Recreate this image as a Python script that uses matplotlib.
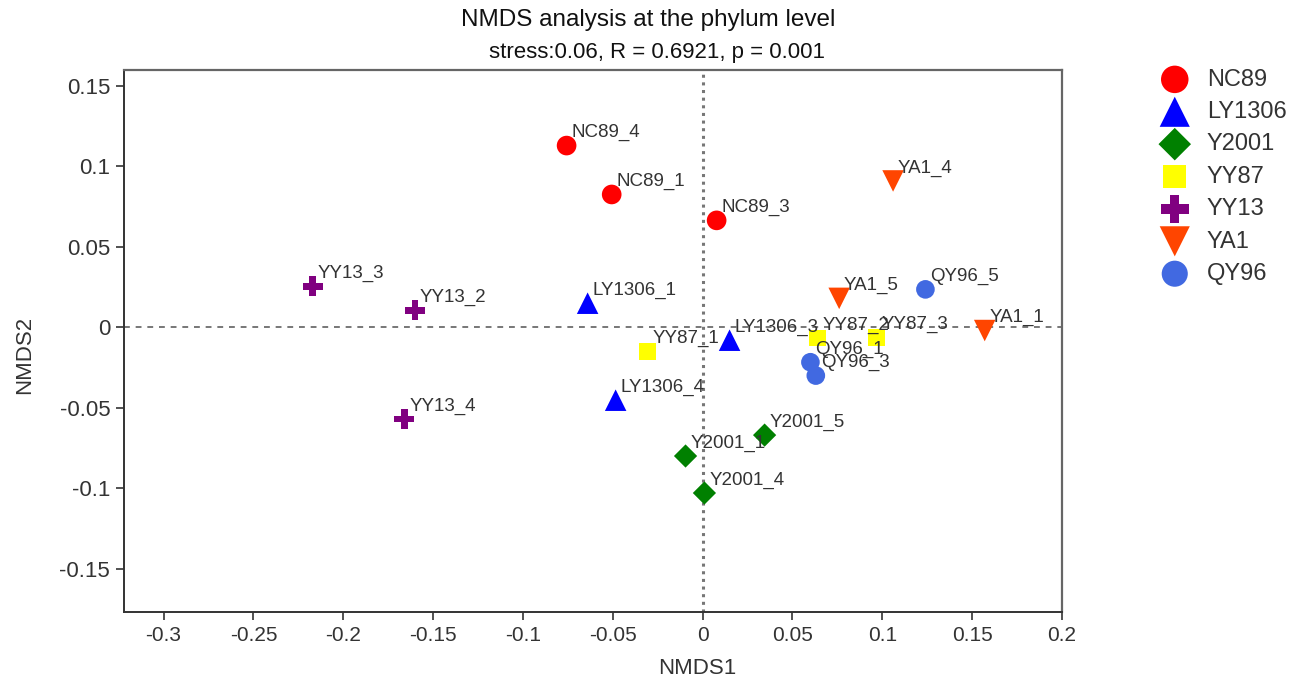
import matplotlib
matplotlib.use("Agg")
import matplotlib.pyplot as plt
from matplotlib.ticker import FuncFormatter

plt.rcParams['font.family'] = ['Liberation Sans', 'DejaVu Sans']

# NMDS scores
groups = ["NC89", "LY1306", "Y2001", "YY87", "YY13", "YA1", "QY96"]
samples = {
    "NC89": ["NC89_4", "NC89_1", "NC89_3"],
    "LY1306": ["LY1306_1", "LY1306_3", "LY1306_4"],
    "Y2001": ["Y2001_5", "Y2001_1", "Y2001_4"],
    "YY87": ["YY87_1", "YY87_2", "YY87_3"],
    "YY13": ["YY13_3", "YY13_2", "YY13_4"],
    "YA1": ["YA1_4", "YA1_5", "YA1_1"],
    "QY96": ["QY96_5", "QY96_1", "QY96_3"],
}
nmds1 = {
    "NC89": [-0.0757, -0.0506, 0.0078],
    "LY1306": [-0.064, 0.015, -0.0484],
    "Y2001": [0.0345, -0.0095, 0.001],
    "YY87": [-0.0306, 0.064, 0.0968],
    "YY13": [-0.217, -0.160, -0.166],
    "YA1": [0.106, 0.076, 0.157],
    "QY96": [0.124, 0.060, 0.063],
}
nmds2 = {
    "NC89": [0.113, 0.0826, 0.0665],
    "LY1306": [0.015, -0.008, -0.0453],
    "Y2001": [-0.067, -0.080, -0.103],
    "YY87": [-0.0149, -0.0068, -0.0062],
    "YY13": [0.0255, 0.0106, -0.057],
    "YA1": [0.091, 0.018, -0.002],
    "QY96": [0.0236, -0.0217, -0.030],
}

colors = {"NC89": "#FF0000", "LY1306": "#0000FF", "Y2001": "#008000", "YY87": "#FFFF00",
          "YY13": "#800080", "YA1": "#FF4500", "QY96": "#4169E1"}
markers = {"NC89": "o", "LY1306": "^", "Y2001": "D", "YY87": "s",
           "YY13": "P", "YA1": "v", "QY96": "o"}
sizes = {"NC89": 200, "LY1306": 240, "Y2001": 140, "YY87": 140,
         "YY13": 210, "YA1": 240, "QY96": 180}

xticks = [-0.3, -0.25, -0.2, -0.15, -0.1, -0.05, 0, 0.05, 0.1, 0.15, 0.2]
yticks = [-0.15, -0.1, -0.05, 0, 0.05, 0.1, 0.15]

fig = plt.figure(figsize=(13.14, 6.78), dpi=100)
ax = fig.add_axes([0.0944, 0.0973, 0.7138, 0.7995])

ax.axhline(0, color="#777777", ls=(0, (3, 3)), lw=1.4, zorder=1)
ax.axvline(0, color="#777777", ls=(0, (1, 1.5)), lw=2.2, zorder=1)

for g in groups:
    ax.scatter(nmds1[g], nmds2[g], s=sizes[g], marker=markers[g], c=colors[g],
               edgecolors="none", label=g, zorder=3)
    for name, x, y in zip(samples[g], nmds1[g], nmds2[g]):
        ax.annotate(name, (x, y), xytext=(3.5, 3), textcoords="offset points",
                    ha="left", va="bottom", fontsize=13.5, color="#333333", zorder=4)

ax.set_xlim(-0.322, 0.2)
ax.set_ylim(-0.177, 0.16)
ax.set_xticks(xticks)
ax.set_yticks(yticks)
fmt = FuncFormatter(lambda v, p: "{:g}".format(round(v, 3)))
ax.xaxis.set_major_formatter(fmt)
ax.yaxis.set_major_formatter(fmt)
ax.tick_params(direction="out", length=6, width=1.2, colors="#333333", pad=4)
ax.tick_params(axis="y", labelsize=16)
ax.tick_params(axis="x", labelsize=15)

for side in ["left", "bottom"]:
    ax.spines[side].set_color("#333333")
    ax.spines[side].set_linewidth(1.4)
for side in ["top", "right"]:
    ax.spines[side].set_color("#666666")
    ax.spines[side].set_linewidth(1.6)

ax.set_xlabel("NMDS1", fontsize=16, color="#333333")
ax.set_ylabel("NMDS2", fontsize=16, color="#333333")
ax.xaxis.set_label_coords(0.611, -0.085)
ax.yaxis.set_label_coords(-0.095, 0.474)

fig.text(0.493, 0.97, "NMDS analysis at the phylum level", ha="center", va="center",
         fontsize=17.5, color="#111111")
fig.text(0.5, 0.922, "stress:0.06, R = 0.6921, p = 0.001", ha="center", va="center",
         fontsize=16, color="#111111")

leg = ax.legend(loc="upper left", bbox_to_anchor=(1.085, 1.02), frameon=False,
                fontsize=17, markerscale=1.4, labelspacing=0.44, handletextpad=0.35,
                borderaxespad=0)
for t in leg.get_texts():
    t.set_color("#333333")

fig.savefig("out.png", dpi=100)
